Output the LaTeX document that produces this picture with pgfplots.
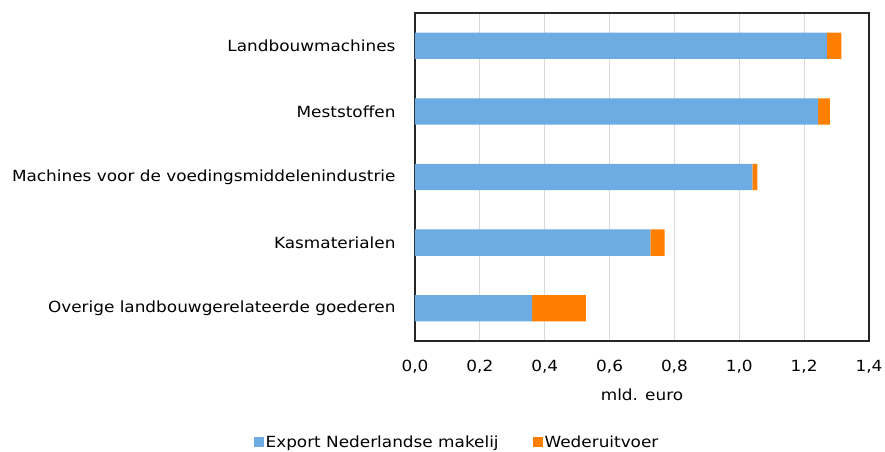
\documentclass[border=0pt]{standalone}
\usepackage{pgfplots}
\pgfplotsset{compat=1.18}
\usepackage{fontspec}
\setmainfont{DejaVu Sans}[FakeStretch=1.1]
\definecolor{cblue}{RGB}{108,172,226}
\definecolor{corange}{RGB}{255,127,0}
\newcommand{\lblfont}{\fontsize{15.4}{18}\selectfont}
\begin{document}
\begin{tikzpicture}
\path[use as bounding box] (0,0) rectangle (885bp,452bp);
\begin{axis}[
  at={(415bp,111bp)}, anchor=south west,
  scale only axis, width=454bp, height=328bp,
  xbar stacked, bar width=26.3bp,
  xmin=0, xmax=1.4, ymin=-0.5, ymax=4.5, y dir=reverse,
  xtick={0,0.2,...,1.4},
  ytick={0,1,2,3,4},
  yticklabels={Landbouwmachines,Meststoffen,Machines voor de voedingsmiddelenindustrie,Kasmaterialen,Overige landbouwgerelateerde goederen},
  major tick length=0pt,
  xmajorgrids, grid style={draw=gray!30, line width=1pt},
  axis line style={line width=1.2pt, draw=black!85},
  x tick label style={/pgf/number format/fixed, /pgf/number format/fixed zerofill, /pgf/number format/precision=1, /pgf/number format/use comma, /pgf/number format/assume math mode=true},
  tick label style={font=\lblfont},
  xticklabel style={yshift=-16bp},
  yticklabel style={xshift=-16bp},
  xlabel={mld. euro}, xlabel style={font=\lblfont, yshift=-8bp},
  legend columns=2,
  legend style={at={(0.0925,-0.308)}, anchor=center, draw=none, font=\lblfont, inner sep=0pt, /tikz/every even column/.append style={column sep=32bp}},
  legend image code/.code={\fill[#1] (0bp,-5bp) rectangle (10bp,5bp);},
  legend cell align=left,
]
\addplot[fill=cblue, draw=none] coordinates {(1.270,0) (1.243,1) (1.040,2) (0.726,3) (0.361,4)};
\addplot[fill=corange, draw=none] coordinates {(0.045,0) (0.036,1) (0.016,2) (0.044,3) (0.166,4)};
\legend{Export Nederlandse makelij, Wederuitvoer}
\end{axis}
\end{tikzpicture}
\end{document}
